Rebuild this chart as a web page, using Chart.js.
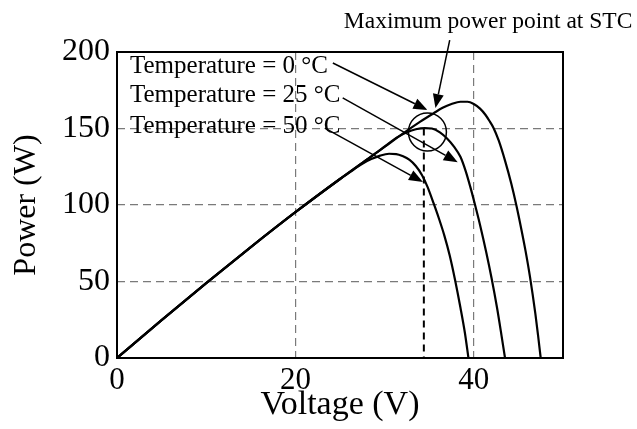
<!DOCTYPE html>
<html>
<head>
<meta charset="utf-8">
<script src="https://cdn.jsdelivr.net/npm/chart.js@4.4.1/dist/chart.umd.min.js"></script>
<style>
  html, body { margin: 0; padding: 0; background: #fff; }
  #pvChart { display: block; }
</style>
</head>
<body>
<canvas id="pvChart" width="637" height="429"></canvas>
<script>
// P-V curves of a PV module at three cell temperatures

const seriesLabels = ["Temperature = 0 °C", "Temperature = 25 °C", "Temperature = 50 °C"];

// 0 °C
const volt0  = [0, 5, 10, 15, 20, 25, 28, 30, 32, 34, 35.5, 36.5, 37.5, 38.5, 39.3, 40, 40.7, 41.3, 41.8, 42.2, 42.8, 43.5, 44.2, 44.8, 45.3, 45.8, 46.3, 46.9, 47.2, 47.5];
const power0 = [0, 24.8, 49, 72.5, 95.3, 117, 129.6, 138, 146.5, 154.5, 160, 163.5, 166, 167.5, 167.5, 166, 163, 159, 154.5, 150.5, 142, 129, 114, 99, 85, 70, 53, 29, 15, 0];

// 25 °C (STC)
const volt25  = [0, 5, 10, 15, 20, 25, 28, 29.4, 30.5, 31.5, 32.5, 33.5, 34.5, 35.3, 36.2, 37, 37.8, 38.5, 39.1, 39.6, 40.1, 40.7, 41.4, 42, 42.6, 43.1, 43.5];
const power25 = [0, 24.8, 49, 72.5, 95.3, 117, 129.6, 135.5, 140.5, 144.5, 147.5, 149.5, 150.3, 150, 147.5, 143.5, 138, 131.5, 122, 112, 101, 87, 69, 52, 33, 15, 0];

// 50 °C
const volt50  = [0, 5, 10, 15, 20, 25, 26.5, 27.5, 28.5, 29.5, 30.5, 31.3, 32, 32.8, 33.5, 34.2, 34.8, 35.5, 36.1, 36.7, 37.3, 37.9, 38.5, 39, 39.4];
const power50 = [0, 24.8, 49, 72.5, 95.3, 117, 123, 127, 130, 132.3, 133.5, 133.3, 132, 129.5, 125.5, 119.5, 112, 101, 91, 80, 67, 51, 33, 16.5, 0];

// maximum power point at STC
const mppVoltage = 34.4;
const mppPower = 150;

const xTicks = [0, 20, 40];
const yTicks = [0, 50, 100, 150, 200];
const xMax = 50;

const serif = '"Liberation Serif", "Times New Roman", serif';

function toPoints(volts, powers) {
    return volts.map((v, i) => ({ x: v, y: powers[i] }));
}

function curve(volts, powers) {
    return {
        data: toPoints(volts, powers),
        borderColor: "#000",
        borderWidth: 2.2,
        pointRadius: 0,
        fill: false,
        cubicInterpolationMode: "monotone",
    };
}

function drawArrow(ctx, x1, y1, x2, y2) {
    const ang = Math.atan2(y2 - y1, x2 - x1);
    const len = 14, half = 5.5;
    const bx = x2 - len * Math.cos(ang);
    const by = y2 - len * Math.sin(ang);
    ctx.beginPath();
    ctx.moveTo(x1, y1);
    ctx.lineTo(bx, by);
    ctx.stroke();
    ctx.beginPath();
    ctx.moveTo(x2, y2);
    ctx.lineTo(bx + half * Math.sin(ang), by - half * Math.cos(ang));
    ctx.lineTo(bx - half * Math.sin(ang), by + half * Math.cos(ang));
    ctx.closePath();
    ctx.fill();
}

// labels, arrows, circle and the frame
const annotations = {
    id: "annotations",
    afterDatasetsDraw(chart) {
        const { ctx, chartArea, scales } = chart;
        const px = v => scales.x.getPixelForValue(v);
        const py = p => scales.y.getPixelForValue(p);
        ctx.save();
        ctx.fillStyle = "#000";
        ctx.strokeStyle = "#000";

        ctx.font = "25px " + serif;
        ctx.textAlign = "left";
        ctx.textBaseline = "alphabetic";
        const rowOffsets = [21, 50, 81];
        seriesLabels.forEach((t, i) => {
            ctx.fillText(t, chartArea.left + 13, chartArea.top + rowOffsets[i]);
        });

        ctx.font = "23.5px " + serif;
        ctx.textAlign = "center";
        ctx.fillText("Maximum power point at STC", px(41.6), py(215.7));

        ctx.lineWidth = 1.5;
        drawArrow(ctx, px(24.2), py(192.8), px(34.8), py(162.1));
        drawArrow(ctx, px(25.3), py(170), px(38.2), py(128));
        drawArrow(ctx, px(23.3), py(150.3), px(34.3), py(115));
        drawArrow(ctx, px(37.3), py(207.8), px(35.7), py(163.4));

        ctx.beginPath();
        ctx.arc(px(34.8), py(147.7), 19, 0, Math.PI * 2);
        ctx.stroke();

        ctx.lineWidth = 2;
        ctx.strokeRect(chartArea.left, chartArea.top,
            chartArea.right - chartArea.left, chartArea.bottom - chartArea.top);
        ctx.restore();
    },
};

const ctx = document.getElementById("pvChart").getContext("2d");
new Chart(ctx, {
    type: "line",
    data: {
        datasets: [
            curve(volt0, power0),
            curve(volt25, power25),
            curve(volt50, power50),
            {
                data: [{ x: mppVoltage, y: mppPower }, { x: mppVoltage, y: 0 }],
                borderColor: "#000",
                borderWidth: 2,
                borderDash: [7, 5],
                pointRadius: 0,
                fill: false,
            },
        ],
    },
    options: {
        responsive: false,
        animation: false,
        layout: {
            padding: { top: 52, right: 74, left: 0, bottom: 0 },
        },
        plugins: {
            legend: { display: false },
            tooltip: { enabled: false },
        },
        scales: {
            x: {
                type: "linear",
                min: xTicks[0],
                max: xMax,
                afterFit: scale => { scale.height = 71; },
                ticks: {
                    stepSize: xTicks[1] - xTicks[0],
                    includeBounds: false,
                    color: "#000",
                    padding: 4,
                    maxRotation: 0,
                    font: { family: serif, size: 31 },
                },
                grid: { color: "#7a7a7a", lineWidth: 1.2, drawTicks: false },
                border: { display: false, dash: [8, 5] },
                title: {
                    display: true,
                    text: "Voltage (V)",
                    color: "#000",
                    padding: { top: 0, bottom: 4 },
                    font: { family: serif, size: 34 },
                },
            },
            y: {
                min: yTicks[0],
                max: yTicks[yTicks.length - 1],
                afterFit: scale => { scale.width = 117; },
                ticks: {
                    stepSize: yTicks[1] - yTicks[0],
                    color: "#000",
                    padding: 7,
                    font: { family: serif, size: 32 },
                },
                grid: { color: "#7a7a7a", lineWidth: 1.2, drawTicks: false },
                border: { display: false, dash: [8, 5] },
                title: {
                    display: true,
                    text: "Power (W)",
                    color: "#000",
                    padding: { top: 7, bottom: 0 },
                    font: { family: serif, size: 32 },
                },
            },
        },
    },
    plugins: [annotations],
});
</script>
</body>
</html>
